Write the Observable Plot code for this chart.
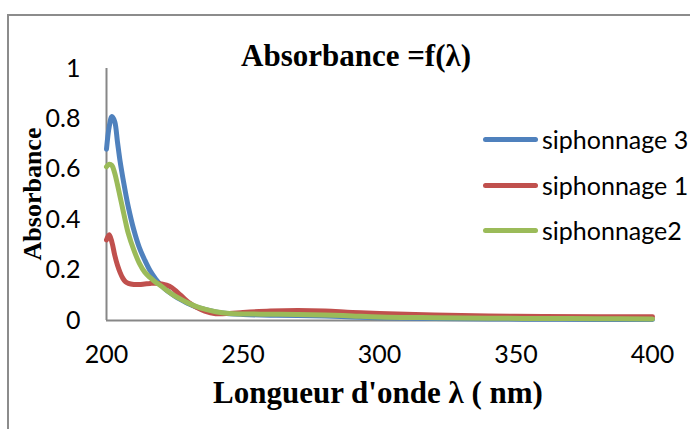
<!DOCTYPE html>
<html>
<head>
<meta charset="utf-8">
<script src="https://cdn.jsdelivr.net/npm/d3@7"></script>
<script src="https://cdn.jsdelivr.net/npm/@observablehq/plot@0.6"></script>
<style>
  html, body { margin: 0; padding: 0; background: #fff; }
  #wrap { position: relative; width: 690px; height: 429px; overflow: hidden; background: #fff; }
  #frame { position: absolute; left: 7px; top: 14px; width: 700px; height: 440px; border-left: 2px solid #8c8c8c; border-top: 2px solid #8c8c8c; box-sizing: border-box; }
  .serif { position: absolute; font-family: "Liberation Serif", "Times New Roman", serif; font-weight: bold; color: #000; white-space: nowrap; line-height: 1; }
  #legend { position: absolute; left: 483px; top: 0; font-family: Lato, sans-serif; font-size: 25px; color: #000; }
  .row { position: absolute; left: 0; height: 30px; display: flex; align-items: center; white-space: nowrap; }
  .sw { width: 55px; height: 5px; border-radius: 3px; margin-right: 4px; }
</style>
</head>
<body>
<div id="wrap"></div>
<script>
// ---- data ----
const seriesNames = ["siphonnage 3", "siphonnage 1", "siphonnage2"];
const seriesColors = ["#4F81BD", "#C0504D", "#9BBB59"];
const wavelengths = [200, 201, 202, 203, 204, 205, 206, 207, 208, 210, 212, 214, 216, 218, 220, 222, 224, 226, 228, 230, 233, 236, 240, 245, 250, 260, 270, 280, 290, 300, 320, 340, 360, 380, 400];
const siph3 = [0.68, 0.77, 0.81, 0.79, 0.71, 0.63, 0.565, 0.505, 0.45, 0.36, 0.29, 0.24, 0.197, 0.165, 0.14, 0.12, 0.104, 0.09, 0.078, 0.067, 0.053, 0.044, 0.034, 0.027, 0.024, 0.021, 0.02, 0.018, 0.014, 0.011, 0.008, 0.006, 0.005, 0.004, 0.004];
const siph1 = [0.32, 0.34, 0.31, 0.26, 0.22, 0.19, 0.167, 0.153, 0.147, 0.143, 0.143, 0.145, 0.147, 0.148, 0.145, 0.14, 0.13, 0.112, 0.092, 0.072, 0.052, 0.037, 0.027, 0.028, 0.032, 0.038, 0.04, 0.038, 0.032, 0.028, 0.022, 0.018, 0.016, 0.015, 0.015];
const siph2 = [0.61, 0.62, 0.615, 0.585, 0.54, 0.49, 0.44, 0.39, 0.345, 0.28, 0.228, 0.192, 0.17, 0.152, 0.137, 0.12, 0.105, 0.092, 0.08, 0.069, 0.055, 0.045, 0.035, 0.028, 0.026, 0.025, 0.024, 0.022, 0.018, 0.014, 0.011, 0.009, 0.008, 0.007, 0.006];
const xTicks = [200, 250, 300, 350, 400];
const yTicks = [0, 0.2, 0.4, 0.6, 0.8, 1];
const yTickLabels = ["0", "0.2", "0.4", "0.6", "0.8", "1"];
const titleText = "Absorbance =f(λ)";
const xLabel = "Longueur d'onde λ ( nm)";
const yLabel = "Absorbance";

// ---- build table ----
const drawOrder = [0, 1, 2];
const seriesValues = [siph3, siph1, siph2];
const rows = [];
for (const i of drawOrder) {
  wavelengths.forEach((w, j) => rows.push({ s: seriesNames[i], w, v: seriesValues[i][j] }));
}

const chart = Plot.plot({
  width: 690,
  height: 429,
  marginLeft: 106,
  marginRight: 38,
  marginTop: 68,
  marginBottom: 109,
  style: { fontFamily: "Lato, sans-serif", fontSize: "25px", color: "#000", background: "transparent" },
  x: { domain: [200, 400] },
  y: { domain: [0, 1] },
  color: { domain: seriesNames, range: seriesColors },
  marks: [
    Plot.axisX(xTicks, { tickSize: 0, tickPadding: 25, label: null, fontSize: 25 }),
    Plot.axisY(yTicks, { tickSize: 0, tickPadding: 26, label: null, fontSize: 25, tickFormat: (d) => yTickLabels[yTicks.indexOf(d)] }),
    Plot.ruleX([200], { stroke: "#878787", strokeWidth: 2 }),
    Plot.ruleY([0], { stroke: "#878787", strokeWidth: 2 }),
    Plot.line(rows, { x: "w", y: "v", z: "s", stroke: "s", strokeWidth: 5, curve: "catmull-rom" })
  ]
});

const wrap = document.getElementById("wrap");
wrap.appendChild(chart);

const frame = document.createElement("div");
frame.id = "frame";
wrap.appendChild(frame);

function addText(txt, size, left, top, rotate) {
  const d = document.createElement("div");
  d.className = "serif";
  d.textContent = txt;
  d.style.fontSize = size + "px";
  wrap.appendChild(d);
  const w = d.offsetWidth, h = d.offsetHeight;
  d.style.left = (left - w / 2) + "px";
  d.style.top = (top - h / 2) + "px";
  if (rotate) d.style.transform = "rotate(-90deg)";
  return d;
}
addText(titleText, 31, 356, 55);
addText(xLabel, 31, 378, 392);
addText(yLabel, 26, 33, 194, true);

const legend = document.createElement("div");
legend.id = "legend";
const rowCenters = [139, 185, 230];
seriesNames.forEach((n, i) => {
  const r = document.createElement("div");
  r.className = "row";
  r.style.top = (rowCenters[i] - 15) + "px";
  const sw = document.createElement("div");
  sw.className = "sw";
  sw.style.background = seriesColors[i];
  const t = document.createElement("span");
  t.textContent = n;
  r.appendChild(sw);
  r.appendChild(t);
  legend.appendChild(r);
});
wrap.appendChild(legend);
</script>
</body>
</html>
